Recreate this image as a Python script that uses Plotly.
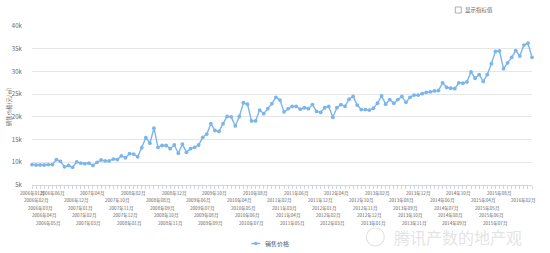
import plotly.graph_objects as go

# Monthly categories 2006-01 .. 2016-04
months = []
for yr in range(2006, 2017):
    for mo in range(1, 13):
        months.append(f"{yr}年{mo:02d}月")
months = months[:124]

# Sales price (yuan / m2), read in thousands
price_k = [
    9.5, 9.4, 9.4, 9.4, 9.5, 9.5, 10.6, 10.2, 9.0, 9.3,
    8.9, 10.1, 9.8, 9.7, 9.8, 9.3, 10.0, 10.5, 10.3, 10.3,
    10.7, 10.6, 11.4, 11.0, 11.9, 11.8, 11.2, 13.2, 15.4, 14.2,
    17.5, 13.3, 13.7, 13.7, 13.0, 13.8, 12.0, 14.0, 12.2, 13.0,
    13.3, 13.8, 15.5, 16.2, 18.5, 17.0, 16.8, 18.5, 20.1, 20.0,
    18.0, 20.1, 23.1, 22.8, 19.1, 19.1, 21.5, 20.7, 21.8, 22.9,
    24.3, 23.7, 21.1, 21.8, 22.3,
    22.3, 21.7, 22.0, 21.8, 22.7, 21.2, 21.0, 22.0, 22.3, 19.9,
    22.0, 22.7, 22.3, 23.9, 24.5, 22.6, 21.6, 21.6, 21.5, 21.9,
    23.0, 24.6, 22.8, 23.8, 23.0, 23.8, 24.5, 23.2, 24.3, 24.8,
    24.8, 25.1, 25.4, 25.5, 25.7, 25.8, 27.5, 26.5, 26.3, 26.2,
    27.5, 27.4, 27.7, 29.9, 28.5, 29.3, 27.8, 29.3, 31.7, 34.4,
    34.5, 30.6, 31.9, 33.1, 34.6, 33.4, 35.8, 36.2, 33.1,
]
price = [v * 1000 for v in price_k]

y_tickvals = [5000, 10000, 15000, 20000, 25000, 30000, 35000, 40000]
y_ticktext = ["5k", "10k", "15k", "20k", "25k", "30k", "35k", "40k"]

series_name = "销售价格"
y_title = "销售价格(元/㎡)"
toggle_label = "显示指标值"
watermark = "腾讯产数的地产观"

W, H = 550, 253
L, R, T, B = 31.7, 18.3, 26, 68
pw, ph = W - L - R, H - T - B

def px2paper_x(px):
    return (px - L) / pw

def px2paper_y(py):
    return (H - B - py) / ph

color = "#7cb5ec"

fig = go.Figure()
fig.add_trace(go.Scatter(
    x=months, y=price, mode="lines+markers", name=series_name,
    line=dict(color=color, width=1.4),
    marker=dict(color=color, size=3.8),
    cliponaxis=False, showlegend=False,
))

annotations = []
row_y = [193, 200.5, 208, 215.5, 223]
for i, m in enumerate(months):
    if i == 0 or (i % 10 in (1, 2, 3, 4, 5) and i <= 121):
        row = i % 5
        annotations.append(dict(
            x=m, xref="x", y=px2paper_y(row_y[row]), yref="paper",
            text=m, showarrow=False, font=dict(size=4.6, color="#666"),
            xanchor="center", yanchor="middle",
        ))

annotations.append(dict(
    x=px2paper_x(9), y=px2paper_y(107), xref="paper", yref="paper",
    text=y_title, textangle=-90, showarrow=False,
    font=dict(size=5.5, color="#666"), xanchor="center", yanchor="middle",
))
annotations.append(dict(
    x=px2paper_x(263), y=px2paper_y(243.5), xref="paper", yref="paper",
    text=series_name, showarrow=False,
    font=dict(size=6, color="#555"), xanchor="left", yanchor="middle",
))
annotations.append(dict(
    x=px2paper_x(463), y=px2paper_y(10), xref="paper", yref="paper",
    text=toggle_label, showarrow=False,
    font=dict(size=5.5, color="#666"), xanchor="left", yanchor="middle",
))
annotations.append(dict(
    x=px2paper_x(458), y=px2paper_y(237), xref="paper", yref="paper",
    text=watermark, showarrow=False,
    font=dict(size=16, color="rgba(200,200,200,0.5)"), xanchor="center", yanchor="middle",
))

shapes = [
    dict(type="line", xref="paper", yref="paper",
         x0=px2paper_x(251), x1=px2paper_x(260), y0=px2paper_y(243.5), y1=px2paper_y(243.5),
         line=dict(color=color, width=1.5)),
    dict(type="circle", xref="paper", yref="paper",
         x0=px2paper_x(253.8), x1=px2paper_x(257.2), y0=px2paper_y(245.2), y1=px2paper_y(241.8),
         fillcolor=color, line=dict(color=color, width=0)),
    dict(type="rect", xref="paper", yref="paper",
         x0=px2paper_x(455), x1=px2paper_x(461), y0=px2paper_y(13), y1=px2paper_y(7),
         line=dict(color="#999", width=0.8), fillcolor="white"),
    dict(type="circle", xref="paper", yref="paper",
         x0=px2paper_x(366), x1=px2paper_x(384), y0=px2paper_y(246), y1=px2paper_y(228),
         line=dict(color="rgba(200,200,200,0.5)", width=1.2)),
]

fig.update_layout(
    width=W, height=H,
    margin=dict(l=L, r=R, t=T, b=B, pad=0),
    paper_bgcolor="white", plot_bgcolor="white",
    font=dict(family="Noto Sans CJK SC, Noto Sans, sans-serif", color="#666"),
    xaxis=dict(
        type="category", range=[0, len(months) - 1],
        showgrid=False, zeroline=False,
        showline=True, linecolor="#ccd6eb", linewidth=1,
        ticks="outside", ticklen=3, tickcolor="#ccd6eb", tickwidth=0.6,
        tickmode="linear", tick0=0, dtick=1,
        showticklabels=False,
    ),
    yaxis=dict(
        range=[5000, 40000], tickvals=y_tickvals, ticktext=y_ticktext,
        showgrid=True, gridcolor="#e6e6e6", gridwidth=1,
        zeroline=False, showline=False,
        ticks="outside", ticklen=8, tickcolor="rgba(0,0,0,0)",
        tickfont=dict(size=6, color="#666"),
    ),
    annotations=annotations,
    shapes=shapes,
    showlegend=False,
)

fig.write_html("out.html")
